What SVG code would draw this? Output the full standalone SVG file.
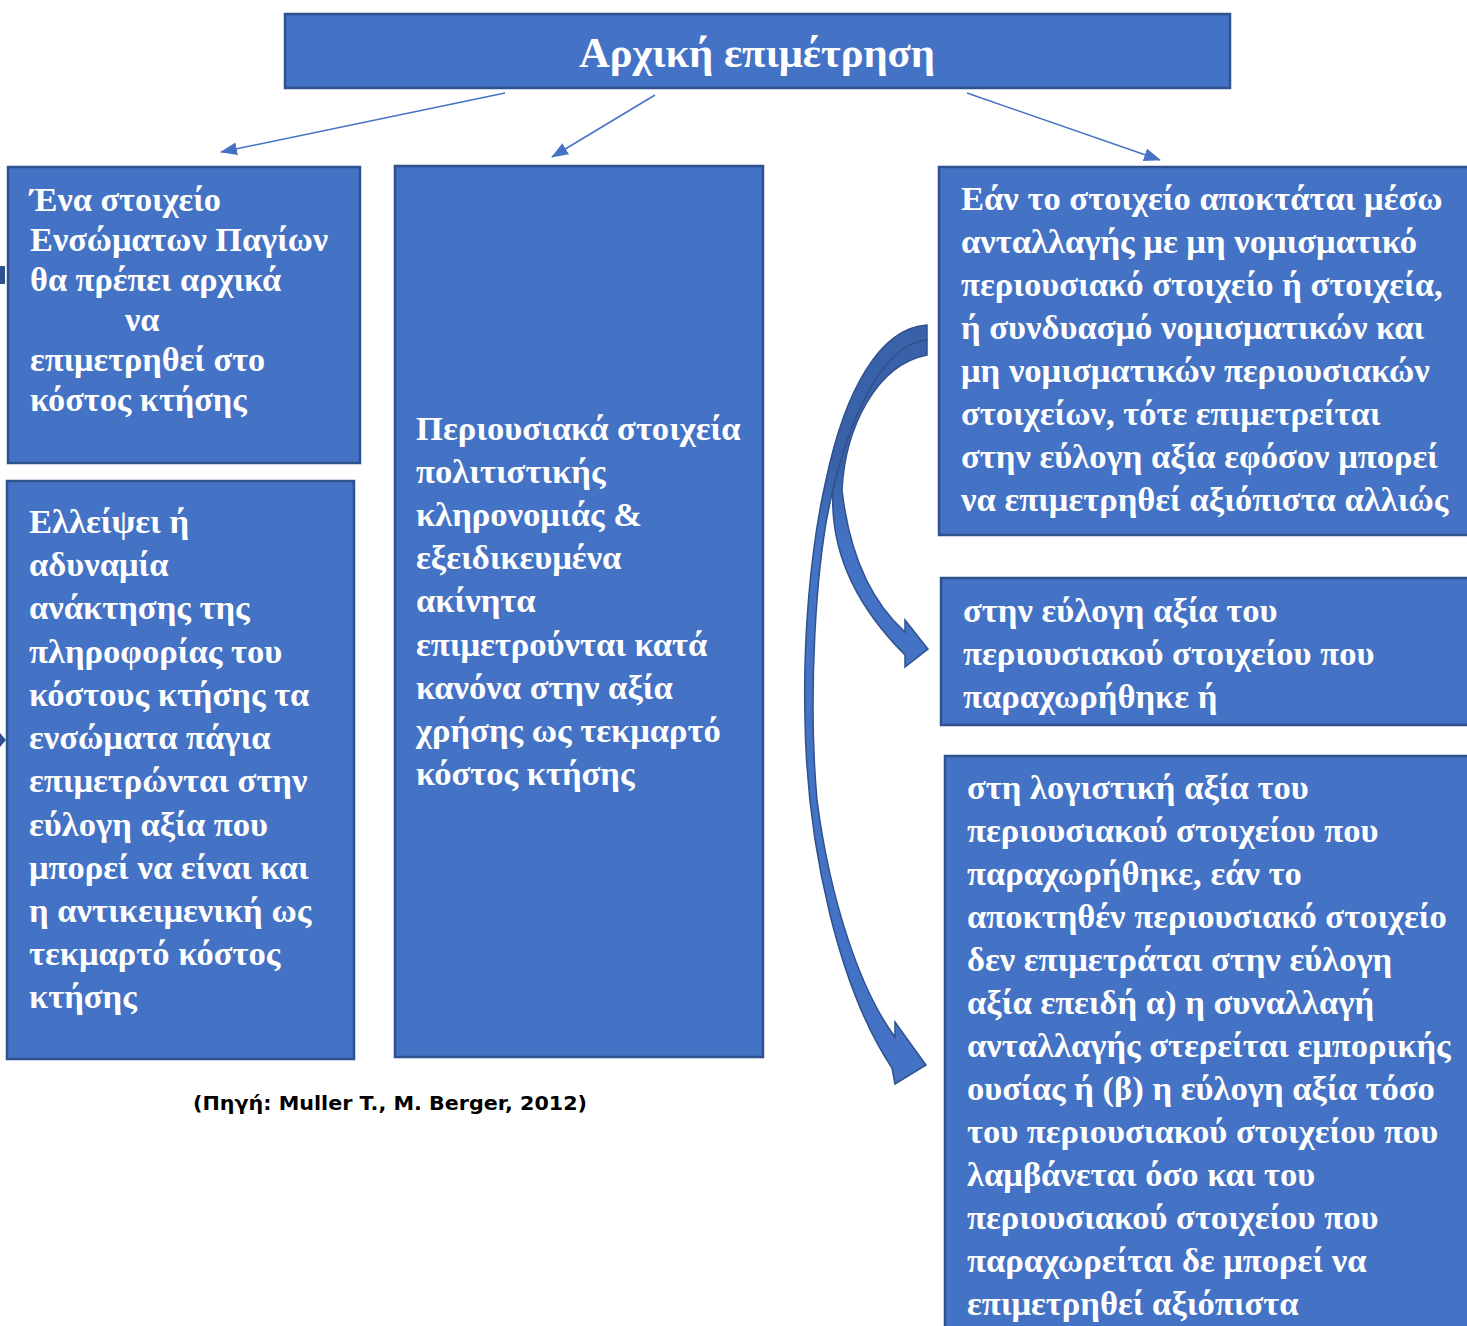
<svg xmlns="http://www.w3.org/2000/svg" width="1467" height="1326" viewBox="0 0 1467 1326">
<defs>
<style>
.box{fill:#4472C4;stroke:#2F528F;stroke-width:2.5}
.t{font-family:"Liberation Serif","Times New Roman",serif;font-weight:bold;fill:#FFFFFF;font-size:34.6px}
.conn{stroke:#4472C4;stroke-width:1.5;fill:none}
.blk{stroke:#2F528F;stroke-width:1.5}
</style>
<marker id="ah" markerUnits="userSpaceOnUse" markerWidth="18" markerHeight="14" refX="16" refY="6.5" orient="auto">
<path d="M0,0 L17,6.5 L0,13 z" fill="#4472C4"/>
</marker>
<linearGradient id="g" gradientUnits="userSpaceOnUse" x1="0" y1="470" x2="0" y2="540">
<stop offset="0" stop-color="#3A62A9"/>
<stop offset="1" stop-color="#4472C4"/>
</linearGradient>
</defs>
<rect x="0" y="266" width="5" height="18" fill="#2F528F"/>
<path d="M0,733 L6,740 L0,747 z" fill="#2F528F"/>
<g id="title">
<rect class="box" x="285" y="14" width="945" height="74"/>
<text class="t" x="757" y="67" text-anchor="middle" style="font-size:42.6px">Αρχική επιμέτρηση</text>
</g>
<g id="n1">
<rect class="box" x="8" y="167" width="352" height="296"/>
<text class="t" style="font-size:34.3px"><tspan x="30" y="211">Ένα στοιχείο</tspan><tspan x="30" y="251">Ενσώματων Παγίων</tspan><tspan x="30" y="291">θα πρέπει αρχικά</tspan><tspan x="125" y="331">να</tspan><tspan x="30" y="371">επιμετρηθεί στο</tspan><tspan x="30" y="411">κόστος κτήσης</tspan></text>
</g>
<g id="n2">
<rect class="box" x="7" y="481" width="347" height="578"/>
<text class="t"><tspan x="29" y="533">Ελλείψει ή</tspan><tspan x="29" y="576">αδυναμία</tspan><tspan x="29" y="619">ανάκτησης της</tspan><tspan x="29" y="663">πληροφορίας του</tspan><tspan x="29" y="706">κόστους κτήσης τα</tspan><tspan x="29" y="749">ενσώματα πάγια</tspan><tspan x="29" y="792">επιμετρώνται στην</tspan><tspan x="29" y="836">εύλογη αξία που</tspan><tspan x="29" y="879">μπορεί να είναι και</tspan><tspan x="29" y="922">η αντικειμενική ως</tspan><tspan x="29" y="965">τεκμαρτό κόστος</tspan><tspan x="29" y="1008">κτήσης</tspan></text>
</g>
<g id="n3">
<rect class="box" x="395" y="166" width="368" height="891"/>
<text class="t"><tspan x="416" y="440">Περιουσιακά στοιχεία</tspan><tspan x="416" y="483">πολιτιστικής</tspan><tspan x="416" y="526">κληρονομιάς &amp;</tspan><tspan x="416" y="569">εξειδικευμένα</tspan><tspan x="416" y="612">ακίνητα</tspan><tspan x="416" y="656">επιμετρούνται κατά</tspan><tspan x="416" y="699">κανόνα στην αξία</tspan><tspan x="416" y="742">χρήσης ως τεκμαρτό</tspan><tspan x="416" y="785">κόστος κτήσης</tspan></text>
</g>
<g id="n4">
<rect class="box" x="939" y="167" width="536" height="368"/>
<text class="t"><tspan x="961" y="210">Εάν το στοιχείο αποκτάται μέσω</tspan><tspan x="961" y="253">ανταλλαγής με μη νομισματικό</tspan><tspan x="961" y="296">περιουσιακό στοιχείο ή στοιχεία,</tspan><tspan x="961" y="339">ή συνδυασμό νομισματικών και</tspan><tspan x="961" y="382">μη νομισματικών περιουσιακών</tspan><tspan x="961" y="425">στοιχείων, τότε επιμετρείται</tspan><tspan x="961" y="468">στην εύλογη αξία εφόσον μπορεί</tspan><tspan x="961" y="511">να επιμετρηθεί αξιόπιστα αλλιώς</tspan></text>
</g>
<g id="n5">
<rect class="box" x="941" y="578" width="534" height="147"/>
<text class="t"><tspan x="963" y="622">στην εύλογη αξία του</tspan><tspan x="963" y="665">περιουσιακού στοιχείου που</tspan><tspan x="963" y="708">παραχωρήθηκε ή</tspan></text>
</g>
<g id="n6">
<rect class="box" x="945" y="756" width="530" height="580"/>
<text class="t"><tspan x="967" y="799">στη λογιστική αξία του</tspan><tspan x="967" y="842">περιουσιακού στοιχείου που</tspan><tspan x="967" y="885">παραχωρήθηκε, εάν το</tspan><tspan x="967" y="928">αποκτηθέν περιουσιακό στοιχείο</tspan><tspan x="967" y="971">δεν επιμετράται στην εύλογη</tspan><tspan x="967" y="1014">αξία επειδή α) η συναλλαγή</tspan><tspan x="967" y="1057">ανταλλαγής στερείται εμπορικής</tspan><tspan x="967" y="1100">ουσίας ή (β) η εύλογη αξία τόσο</tspan><tspan x="967" y="1143">του περιουσιακού στοιχείου που</tspan><tspan x="967" y="1186">λαμβάνεται όσο και του</tspan><tspan x="967" y="1229">περιουσιακού στοιχείου που</tspan><tspan x="967" y="1272">παραχωρείται δε μπορεί να</tspan><tspan x="967" y="1315">επιμετρηθεί αξιόπιστα</tspan></text>
</g>
<g id="connectors">
<line class="conn" x1="505" y1="93" x2="221" y2="152" marker-end="url(#ah)"/>
<line class="conn" x1="655" y1="95" x2="552" y2="157" marker-end="url(#ah)"/>
<line class="conn" x1="967" y1="93" x2="1160" y2="160" marker-end="url(#ah)"/>
<path class="blk" fill="url(#g)" d="M927,325 C880,328 845,390 826,480 C810,550 803,640 805,720 C807,850 840,990 892,1068 L895,1084 L926,1065 L895,1022 L895,1037 C860,990 830,900 817,800 C808,700 815,560 833,490 C845,440 875,345 927,340 Z"/>
<path class="blk" fill="url(#g)" d="M927,340 C875,345 845,440 833,490 C830,545 850,600 905,655 L905,667 L928,649 L905,620 L905,632 C875,605 850,560 842,490 C845,430 875,365 927,355 Z"/>
</g>
<text x="193" y="1110" style="font-family:'DejaVu Sans',sans-serif;font-weight:bold;font-size:20px;fill:#000" textLength="394" lengthAdjust="spacingAndGlyphs">(Πηγή: Muller T., M. Berger, 2012)</text>
</svg>
